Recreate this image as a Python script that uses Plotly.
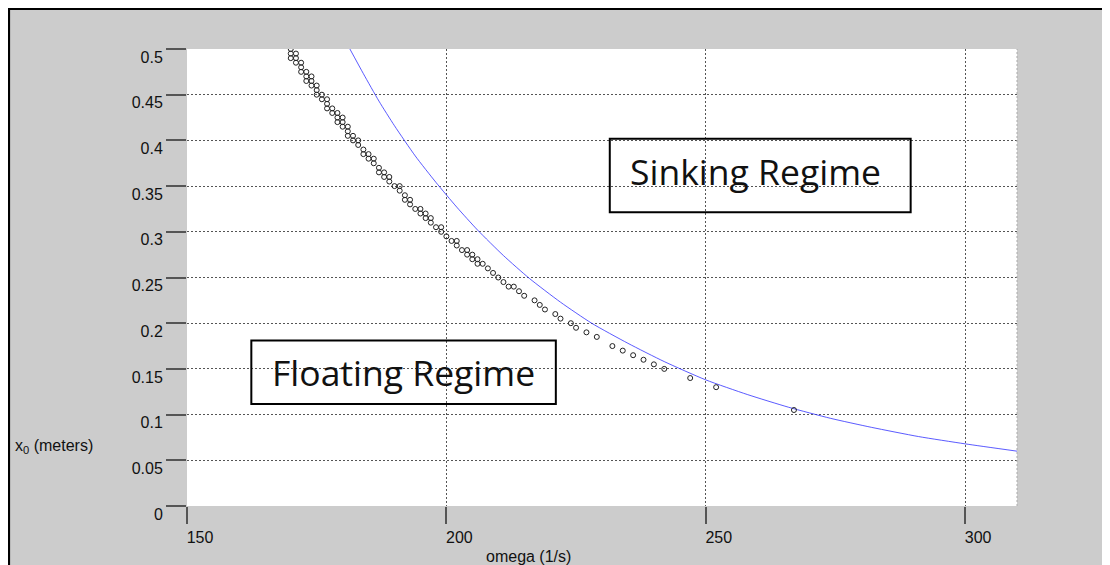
import plotly.graph_objects as go

# ---- data ----
omega_pts = [170, 170, 171, 170, 171, 171, 172, 172, 172, 173, 173, 174, 173, 174,
             174, 175, 175, 175, 176, 176, 177, 177, 177, 178, 178, 179, 179, 180,
             179, 180, 180, 181, 181, 181, 182, 182, 183, 183, 184, 184, 185, 185,
             186, 186, 187, 187, 188, 188, 189, 189, 190, 191, 191, 192, 192, 193,
             193, 194, 195, 195, 196, 196, 197, 197, 198, 199, 199, 200, 201, 202,
             202, 203, 204, 204, 205, 205, 206, 206, 207, 208, 209, 210, 211, 212,
             213, 214, 215, 217, 218, 219, 221, 222, 224, 225, 227, 229, 232, 234,
             236, 238, 240, 242, 247, 252, 267]
x0_pts = [0.500, 0.495, 0.495, 0.490, 0.490, 0.485, 0.485, 0.480, 0.475, 0.475, 0.470, 0.470, 0.465, 0.465,
          0.460, 0.460, 0.455, 0.450, 0.450, 0.445, 0.445, 0.440, 0.435, 0.435, 0.430, 0.430, 0.425, 0.425,
          0.420, 0.420, 0.415, 0.415, 0.410, 0.405, 0.405, 0.400, 0.400, 0.395, 0.390, 0.385, 0.385, 0.380,
          0.380, 0.375, 0.370, 0.365, 0.365, 0.360, 0.360, 0.355, 0.350, 0.350, 0.345, 0.340, 0.335, 0.335,
          0.330, 0.325, 0.325, 0.320, 0.320, 0.315, 0.315, 0.310, 0.305, 0.305, 0.300, 0.295, 0.290, 0.290,
          0.285, 0.280, 0.280, 0.275, 0.275, 0.270, 0.270, 0.265, 0.265, 0.260, 0.255, 0.250, 0.245, 0.240,
          0.240, 0.235, 0.230, 0.225, 0.220, 0.215, 0.210, 0.205, 0.200, 0.195, 0.190, 0.185, 0.175, 0.170,
          0.165, 0.160, 0.155, 0.150, 0.140, 0.130, 0.105]

omega_curve = [181.4, 184, 187, 190, 194, 198, 202, 206, 211, 216, 222, 228, 235, 242,
               250, 258, 266, 274, 282, 291, 300, 310]
x0_curve = [0.500, 0.473, 0.443, 0.416, 0.383, 0.354, 0.327, 0.302, 0.274, 0.249, 0.223, 0.200, 0.178, 0.158,
            0.138, 0.122, 0.108, 0.096, 0.086, 0.076, 0.068, 0.060]

x_tick_vals = [150, 200, 250, 300]
y_tick_vals = [0, 0.05, 0.1, 0.15, 0.2, 0.25, 0.3, 0.35, 0.4, 0.45, 0.5]
y_tick_text = ["0", "0.05", "0.1", "0.15", "0.2", "0.25", "0.3", "0.35", "0.4", "0.45", "0.5"]

x_title = "omega (1/s)"
y_title = "x<sub>0</sub> (meters)"
label_sinking = "Sinking Regime"
label_floating = "Floating Regime"

# ---- figure (page body has an 8px margin, so the figure starts at 8,8) ----
OFF = 8
W, H = 1110 - OFF, 565 - OFF
ML, MR, MT, MB = 179, 93, 41, 59
PW, PH = W - ML - MR, H - MT - MB


def px(xpage):
    return (xpage - OFF - ML) / PW


def py(ypage):
    return (H - MB - (ypage - OFF)) / PH


fig = go.Figure()
fig.add_trace(go.Scatter(x=omega_curve, y=x0_curve, mode="lines",
                         line=dict(color="rgba(50,50,255,0.8)", width=1, shape="spline",
                                   smoothing=0.6),
                         hoverinfo="skip"))
fig.add_trace(go.Scatter(x=omega_pts, y=x0_pts, mode="markers",
                         marker=dict(symbol="circle-open", size=5, color="#222",
                                     line=dict(width=1, color="#222"))))

tickfont = dict(family="Liberation Sans, Arial, sans-serif", size=16, color="#111")
grid = dict(showgrid=True, gridcolor="#555", gridwidth=1, griddash="2px,2px",
            zeroline=False, showline=False, ticks="outside", tickwidth=2,
            tickcolor="#555", tickfont=tickfont)

fig.update_xaxes(range=[150, 310], tickvals=x_tick_vals, ticklen=17,
                 ticklabelshift=13, **grid)
fig.update_yaxes(range=[0, 0.5], tickvals=y_tick_vals, ticktext=y_tick_text,
                 ticklen=20, ticklabelshift=8, **grid)

shapes = [
    # right edge of plot (light dotted)
    dict(type="line", xref="x domain", yref="y domain", x0=1, x1=1, y0=0, y1=1,
         line=dict(color="#aaa", width=1, dash="2px,2px")),
    # regime boxes
    dict(type="rect", xref="x", yref="y", x0=231.5, x1=289.5, y0=0.3215, y1=0.4018,
         line=dict(color="black", width=2)),
    dict(type="rect", xref="x", yref="y", x0=162.4, x1=221.1, y0=0.1117, y1=0.181,
         line=dict(color="black", width=2)),
    # black frame along top and left edges
    dict(type="line", xref="paper", yref="paper", x0=px(8.7), x1=px(8.7), y0=-1, y1=py(7.3),
         line=dict(color="black", width=2.8), layer="above"),
    dict(type="line", xref="paper", yref="paper", x0=px(7.3), x1=2, y0=py(8.7), y1=py(8.7),
         line=dict(color="black", width=2.8), layer="above"),
]

boxfont = dict(family="Open Sans, Noto Sans, sans-serif", size=35.5, color="#111")
annotations = [
    dict(text=label_sinking, x=259.5, y=0.3668, xref="x", yref="y", showarrow=False,
         xanchor="center", yanchor="middle", font=boxfont),
    dict(text=label_floating, x=191.7, y=0.1467, xref="x", yref="y", showarrow=False,
         xanchor="center", yanchor="middle", font=boxfont),
    dict(text=x_title, x=px(528), y=py(556), xref="paper", yref="paper", showarrow=False,
         xanchor="center", yanchor="middle", font=tickfont),
    dict(text=y_title, x=px(12.7), y=py(446), xref="paper", yref="paper", showarrow=False,
         xanchor="left", yanchor="middle", font=tickfont),
]

fig.update_layout(width=W, height=H, margin=dict(l=ML, r=MR, t=MT, b=MB, pad=0),
                  paper_bgcolor="#cccccc", plot_bgcolor="white", showlegend=False,
                  shapes=shapes, annotations=annotations)

fig.write_html("out.html")
